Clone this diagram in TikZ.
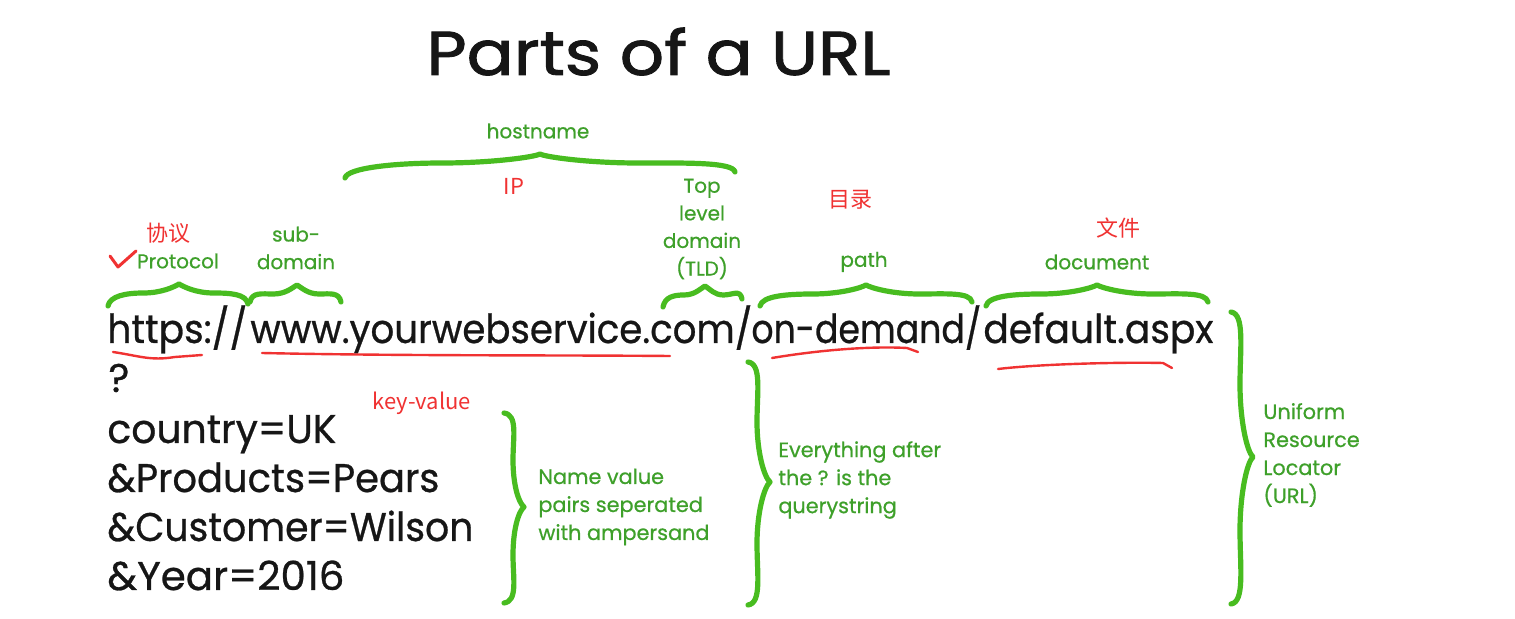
\documentclass[tikz,border=0pt]{standalone}
\usepackage{fontspec}
\usepackage{graphicx}
\setmainfont{Poppins}
\newfontfamily\gfont[FakeBold=0.6]{Poppins}
\newfontfamily\bfont[FakeBold=0.7]{Poppins}
\newfontfamily\tfont[FakeBold=1.4]{Poppins}
\newfontfamily\cjk{Noto Sans CJK SC}
\definecolor{brgreen}{RGB}{72,188,32}
\definecolor{txtgreen}{RGB}{62,160,42}
\definecolor{ured}{RGB}{240,50,50}
\definecolor{ink}{RGB}{22,22,22}
\newcommand\fitw[2]{\resizebox{#1}{\height}{#2}}
\tikzset{
  brace/.style={draw=brgreen, line width=2.6pt, line cap=round, line join=round},
  glbl/.style={text=txtgreen, font=\gfont\fontsize{10}{13.8}\selectfont, inner sep=0pt, align=center},
  glblL/.style={text=txtgreen, font=\gfont\fontsize{10.4}{14}\selectfont, inner sep=0pt, align=left},
  rlbl/.style={text=ured, font=\cjk\fontsize{11}{13}\selectfont, inner sep=0pt},
  urltxt/.style={text=ink, font=\bfont\fontsize{20}{24}\selectfont, inner sep=0pt, anchor=base west},
  uline/.style={draw=ured, line width=1.2pt, line cap=round}
}
\newcommand\hbr[6]{%
  \pgfmathsetmacro\lx{(#1+#3)/2}\pgfmathsetmacro\rx{(#3+#5)/2}%
  \pgfmathsetmacro\my{#4+9}%
  \pgfmathsetmacro\dl{(#3-#1)/4}\pgfmathsetmacro\dr{(#5-#3)/4}%
  \draw[brace] (#1,#2) .. controls ({#1+2},{#2-10}) and ({\lx-\dl},\my) .. (\lx,\my)
    .. controls ({\lx+\dl},\my) and ({#3-5},{#4+3}) .. (#3,#4)
    .. controls ({#3+5},{#4+3}) and ({\rx-\dr},\my) .. (\rx,\my)
    .. controls ({\rx+\dr},\my) and ({#5-2},{#6-10}) .. (#5,#6);}
\newcommand\vbr[5]{% spine x, top y, bottom y, point x, point y
  \pgfmathsetmacro\uy{(#2+#5)/2}\pgfmathsetmacro\dy{(#5+#3)/2}%
  \pgfmathsetmacro\du{(#5-#2)/4}\pgfmathsetmacro\dd{(#3-#5)/4}%
  \draw[brace] ({#1-9},#2) .. controls ({#1+5},{#2+2}) and (#1,{\uy-\du}) .. (#1,\uy)
    .. controls (#1,{\uy+\du}) and ({#4-6},{#5-5}) .. (#4,#5)
    .. controls ({#4-6},{#5+5}) and (#1,{\dy-\dd}) .. (#1,\dy)
    .. controls (#1,{\dy+\dd}) and ({#1+5},{#3-2}) .. ({#1-9},#3);}
\begin{document}
\begin{tikzpicture}[x=0.5pt,y=-0.5pt]
\useasboundingbox (0,0) rectangle (1515,619);
\fill[white] (0,0) rectangle (1515,619);

% title
\node[text=ink, font=\tfont\fontsize{31}{40}\selectfont, inner sep=0pt, anchor=base west] (title) at (426,75) {\fitw{232pt}{Parts of a URL}};

% URL line (in four pieces)
\node[urltxt] (u1) at (107,343) {\fitw{70pt}{https://}};
\node[urltxt] (u2) at (250,343) {\fitw{251pt}{www.yourwebservice.com/}};
\node[urltxt] (u3) at (751,343) {\fitw{115pt}{on-demand/}};
\node[urltxt] (u4) at (983,343) {\fitw{115pt}{default.aspx}};
\node[urltxt] (q) at (108,392) {?};
\node[urltxt] (q1) at (107,443) {\fitw{114.5pt}{country=UK}};
\node[urltxt] (q2) at (107,492) {\fitw{166pt}{\&Products=Pears}};
\node[urltxt] (q3) at (107,541) {\fitw{183pt}{\&Customer=Wilson}};
\node[urltxt] (q4) at (107,590) {\fitw{118.5pt}{\&Year=2016}};

% horizontal braces
\hbr{345}{178}{540}{154}{735}{172}
\hbr{108}{306}{179}{284}{248}{304}
\hbr{250}{302}{297}{285}{341}{302}
\hbr{663}{307}{705}{286}{742}{299}
\hbr{760}{306}{866}{285}{972}{302}
\hbr{986}{306}{1097}{285}{1208}{302}

% vertical braces
\vbr{513}{413}{603}{524}{507}
\vbr{757}{362}{605}{770}{482}
\vbr{1240}{312}{604}{1253}{457}

% green labels
\node[glbl] (host) at (538,131) {hostname};
\node[glbl] (proto) at (178,261) {Protocol};
\node[glbl] (sub) at (296,248) {sub-\\domain};
\node[glbl] (tld) at (702,229) {Top\\level\\domain\\(TLD)};
\node[glbl] (path) at (864,262) {path};
\node[glbl] (doc) at (1097,262) {document};
\node[glblL, anchor=west] (nv) at (538,507) {Name value\\pairs seperated\\with ampersand};
\node[glblL, anchor=west] (qs) at (778,480) {Everything after\\the ? is the\\querystring};
\node[glblL, anchor=west] (urll) at (1263,455) {Uniform\\Resource\\Locator\\(URL)};

% red annotations
\node[rlbl] (xieyi) at (168,233) {协议};
\node[rlbl] (ip) at (514,186) {IP};
\node[rlbl] (mulu) at (850,200) {目录};
\node[rlbl] (wenjian) at (1118,228) {文件};
\node[rlbl] (kv) at (422,403) {key-value};
\draw[draw=ured, line width=1.5pt, line cap=round, line join=round] (110,256) -- (118,267) -- (136,251);

% red underlines
\draw[uline] (113,352) .. controls (140,356) and (150,361) .. (175,357) -- (202,355);
\draw[uline] (262,353) .. controls (400,356) and (550,355) .. (670,356);
\draw[uline] (772,358) .. controls (820,350) and (870,346) .. (907,348) -- (918,352);
\draw[uline] (998,369) .. controls (1040,364) and (1120,362) .. (1163,363) -- (1172,368);
\end{tikzpicture}
\end{document}
